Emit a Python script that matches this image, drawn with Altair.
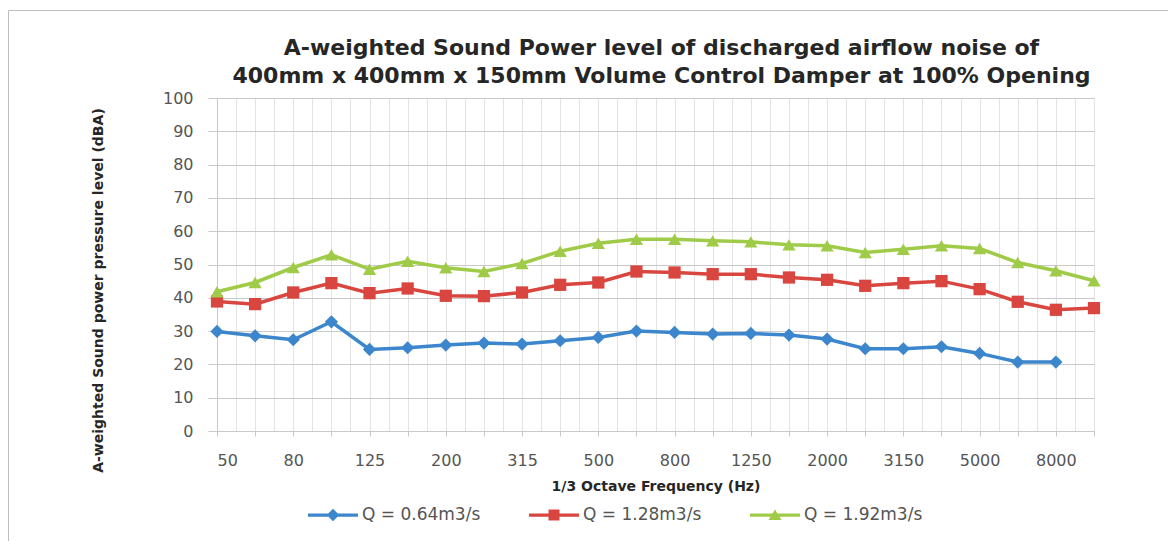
import json
import altair as alt
import pandas as pd

# ---- data ----
freqs = ["50", "63", "80", "100", "125", "160", "200", "250", "315", "400", "500", "630",
         "800", "1000", "1250", "1600", "2000", "2500", "3150", "4000", "5000", "6300",
         "8000", "10000"]
series_names = ["Q = 0.64m3/s", "Q = 1.28m3/s", "Q = 1.92m3/s"]
q064 = [29.9, 28.6, 27.4, 32.8, 24.5, 25.0, 25.8, 26.4, 26.1, 27.1, 28.1, 30.0,
        29.6, 29.1, 29.3, 28.8, 27.6, 24.7, 24.7, 25.3, 23.3, 20.7, 20.7]
q128 = [38.9, 38.1, 41.6, 44.4, 41.4, 42.8, 40.6, 40.5, 41.6, 43.9, 44.6, 47.9,
        47.6, 47.1, 47.1, 46.1, 45.4, 43.6, 44.4, 45.0, 42.6, 38.8, 36.4, 36.9]
q192 = [41.8, 44.6, 49.1, 52.9, 48.6, 51.0, 49.0, 47.9, 50.3, 54.0, 56.4, 57.6,
        57.6, 57.1, 56.8, 55.9, 55.6, 53.6, 54.6, 55.6, 54.8, 50.6, 48.1, 45.1]
y_ticks = [0, 10, 20, 30, 40, 50, 60, 70, 80, 90, 100]

colors = ["#3b86cc", "#d9463f", "#9fcb48"]

rows = []
for name, vals in zip(series_names, [q064, q128, q192]):
    for i, v in enumerate(vals):
        rows.append({"idx": i, "freq": freqs[i], "series": name, "value": v})
df = pd.DataFrame(rows)

n = len(freqs)
grid_vals = [i * 0.5 for i in range(2 * (n - 1) + 1)]
label_expr = "datum.value % 2 === 0 ? " + json.dumps(freqs) + "[datum.value] : ''"

FONT = "DejaVu Sans"
GRAY = "#c9c9c9"

x_enc = alt.X(
    "idx:Q",
    scale=alt.Scale(domain=[0, n - 1], nice=False, zero=False),
    axis=alt.Axis(
        values=grid_vals,
        labelExpr=label_expr,
        labelOverlap=False,
        labelFont=FONT, labelFontSize=16, labelColor="#555555",
        labelPadding=16,
        tickSize=5, tickColor=GRAY,
        tickOpacity={"condition": {"test": "datum.value % 1 === 0", "value": 1}, "value": 0},
        grid=True, gridColor="#e3e3e3", gridWidth=1,
        domainColor=GRAY,
        title="1/3 Octave Frequency (Hz)",
        titleFont=FONT, titleFontSize=14, titleFontWeight="bold", titleColor="#262626",
        titleBaseline="middle", titleY=55,
    ),
)
y_enc = alt.Y(
    "value:Q",
    scale=alt.Scale(domain=[0, 100], nice=False),
    axis=alt.Axis(
        values=y_ticks,
        labelFont=FONT, labelFontSize=16, labelColor="#555555",
        labelPadding=15,
        tickSize=9, tickColor=GRAY,
        grid=True, gridColor=GRAY, gridWidth=1,
        domainColor=GRAY,
        title="A-weighted Sound power pressure level (dBA)",
        titleFont=FONT, titleFontSize=14, titleFontWeight="bold", titleColor="#262626",
        titleAngle=-90, titleAlign="center", titleBaseline="middle",
        titleX=-119, titleY=192,
    ),
)

base = alt.Chart(df)

marker_shapes = ["diamond", "square", "triangle-up"]
marker_sizes = [175, 150, 175]
line_layers = []
point_layers = []
for name, shp, sz, col in zip(series_names, marker_shapes, marker_sizes, colors):
    sub = base.transform_filter(alt.datum.series == name)
    line_layers.append(
        sub.mark_line(strokeWidth=3.5, color=col).encode(x=x_enc, y=y_enc, order="idx:Q")
    )
    point_layers.append(
        sub.mark_point(shape=shp, filled=True, size=sz, opacity=1, color=col)
        .encode(x=x_enc, y=y_enc)
    )

# legend symbols: line with marker in the middle
bar = "M-1,-0.065L1,-0.065L1,0.065L-1,0.065Z "
legend_paths = [
    bar + "M0,-0.25L0.25,0L0,0.25L-0.25,0Z",
    bar + "M-0.22,-0.22L0.22,-0.22L0.22,0.22L-0.22,0.22Z",
    bar + "M0,-0.22L0.26,0.2L-0.26,0.2Z",
]
legend_cfg = dict(
    orient="none", direction="horizontal", legendX=91, legendY=392,
    title=None, symbolSize=2500, symbolStrokeWidth=0, symbolOpacity=1,
    labelFont=FONT, labelFontSize=17, labelColor="#555555",
    labelOffset=4, columnPadding=48, labelLimit=300,
)
legend_layer = (
    base.transform_filter("false")
    .mark_point(filled=True, opacity=1)
    .encode(
        color=alt.Color("series:N", scale=alt.Scale(domain=series_names, range=colors),
                        legend=alt.Legend(**legend_cfg)),
        shape=alt.Shape("series:N", scale=alt.Scale(domain=series_names, range=legend_paths),
                        legend=alt.Legend(**legend_cfg)),
    )
)

frame = alt.Chart(alt.Data(values=[{}])).mark_rect(
    fill=None, stroke="#bdbdbd", strokeWidth=1
).encode(
    x=alt.value(-208.5), y=alt.value(-87.5), x2=alt.value(3000), y2=alt.value(3000)
)

chart = alt.layer(frame, *line_layers, *point_layers, legend_layer).properties(
    width=877,
    height=333,
    title=alt.TitleParams(
        text=["A-weighted Sound Power level of discharged airflow noise of",
              "400mm x 400mm x 150mm Volume Control Damper at 100% Opening"],
        font=FONT, fontSize=22, fontWeight="bold", color="#262626",
        anchor="middle", dx=6, dy=88, lineHeight=28, offset=10,
    ),
    autosize=alt.AutoSizeParams(type="none"),
    padding={"left": 209, "top": 90, "right": 74, "bottom": 110},
).configure_view(stroke=None).configure(background="white")

chart.save("out.html", embed_options={"renderer": "svg", "actions": False})
